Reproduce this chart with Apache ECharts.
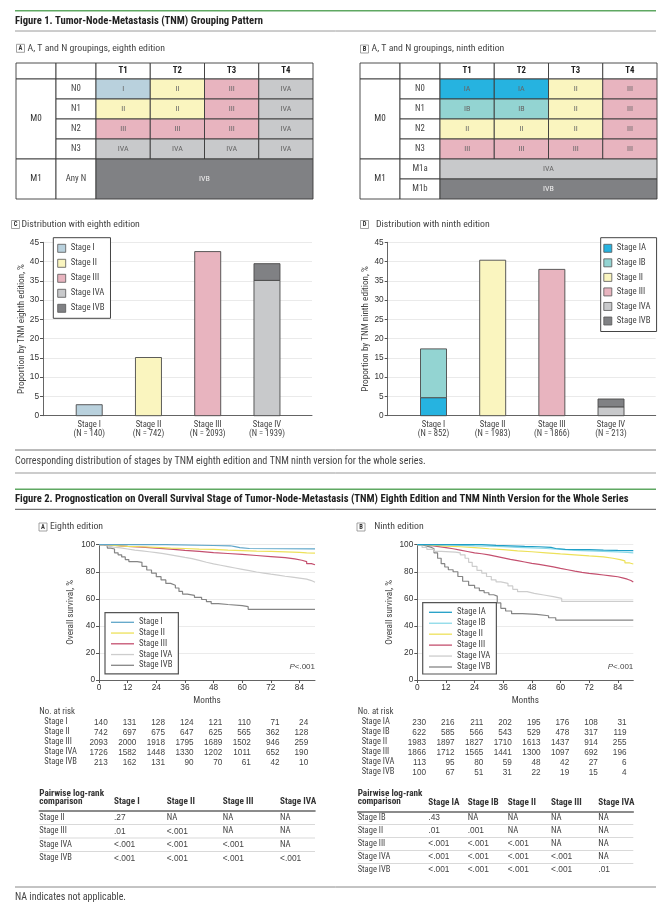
<!DOCTYPE html>
<html><head><meta charset="utf-8">
<script src="https://cdn.jsdelivr.net/npm/echarts@6/dist/echarts.min.js"></script>
<style>html,body{margin:0;padding:0;background:#fff}#c{width:671px;height:907px}</style>
</head><body><div id="c"></div><script>
const FONT = '"Roboto Condensed","Liberation Sans Narrow","Arial Narrow",sans-serif';
const NUMFONT = '"Liberation Sans",Arial,sans-serif';

// ---------------- DATA ----------------
const tCategories = ['T1', 'T2', 'T3', 'T4'];
const nCategories = ['N0', 'N1', 'N2', 'N3'];
const grouping8 = [['I','II','III','IVA'],['II','II','III','IVA'],['III','III','III','IVA'],['IVA','IVA','IVA','IVA']];
const m1Label8 = ['M1', 'Any N', 'IVB'];
const grouping9 = [['IA','IA','II','III'],['IB','IB','II','III'],['II','II','II','III'],['III','III','III','III']];
const m1Sub9 = ['M1a', 'M1b'];
const m1Stage9 = ['IVA', 'IVB'];

const barCats = ['Stage I', 'Stage II', 'Stage III', 'Stage IV'];
const barN8 = [140, 742, 2093, 1939];
const barN9 = [852, 1983, 1866, 213];
const dist8Stage = ['Stage I', 'Stage II', 'Stage III', 'Stage IVA', 'Stage IVB'];
const dist8Bar = [1, 2, 3, 4, 4];
const dist8Pct = [2.85, 15.10, 42.59, 35.12, 4.33];
const dist9Stage = ['Stage IA', 'Stage IB', 'Stage II', 'Stage III', 'Stage IVA', 'Stage IVB'];
const dist9Bar = [1, 1, 2, 3, 4, 4];
const dist9Pct = [4.68, 12.66, 40.35, 37.97, 2.30, 2.03];

const riskMonths = [0, 12, 24, 36, 48, 60, 72, 84];
const km8Names = ['Stage I', 'Stage II', 'Stage III', 'Stage IVA', 'Stage IVB'];
const km8StageI = [[0,100],[27,100],[28,99.4],[48,99.2],[55,98.6],[57,97.8],[59,97.2],[63,96.9],[90.5,96.9]];
const km8StageII = [[0,100],[3,99.5],[6,99.2],[9,98.8],[12,98.5],[18,98],[24,97.5],[30,97.2],[36,96.8],[42,96.5],[48,96],[54,95.6],[60,95.2],[66,95],[72,94.7],[78,94.3],[84,94],[87,93.8],[90.5,93.8]];
const km8StageIII = [[0,100],[3,99.6],[6,99.2],[9,98.7],[12,98.2],[18,97.5],[24,96.7],[30,95.8],[36,95],[42,94.2],[48,93.5],[54,92.8],[60,92],[66,91.2],[72,90.4],[78,89.5],[82,88.5],[85,87.5],[87,86],[89,85.2],[90.5,85.2]];
const km8StageIVA = [[0,100],[2,99],[4,98.2],[6,97.6],[9,96.8],[12,96],[15,95.4],[18,94.8],[21,94.1],[24,93.4],[27,92.5],[30,91.6],[33,90.6],[36,89.7],[39,88.4],[42,87],[45,85.8],[48,84.8],[51,83.8],[54,82.8],[57,81.8],[60,80.8],[63,79.8],[66,79],[69,78.2],[72,77.5],[75,76.7],[78,76],[81,75.3],[84,74.5],[87,73.5],[89,72.2],[90.5,71.9]];
const km8StageIVB = [[0,100],[2,99],[3.5,97.5],[5,96.8],[6.5,94],[8,92.5],[9.5,91],[11,89],[12.5,87.5],[16,87],[18,84],[20,81.3],[22,79],[24,76.4],[26,74],[28,71.4],[30,70],[32,68],[33.5,65.5],[35,63.5],[37,62.5],[40,61],[43,59.5],[45,58],[47,56.5],[50,55.8],[54,55],[60,54.2],[62.5,52.2],[90.5,52.2]];
const km9Names = ['Stage IA', 'Stage IB', 'Stage II', 'Stage III', 'Stage IVA', 'Stage IVB'];
const km9StageIA = [[0,100],[24,100],[27,99.5],[33,99.2],[39,98.8],[45,98.5],[51,98],[56,97.2],[58,96.6],[62,96.3],[72,96],[78,95.8],[84,95.6],[90.5,95.6]];
const km9StageIB = [[0,100],[6,99.8],[12,99.5],[18,99.2],[24,99],[30,98.5],[36,98],[42,97.6],[48,97.2],[54,96.6],[60,95.8],[66,95.4],[72,95],[78,94.7],[84,94.3],[88,94],[90.5,94]];
const km9StageII = [[0,100],[3,99.6],[6,99.3],[9,98.9],[12,98.5],[18,97.8],[24,97],[30,96.3],[36,95.5],[42,94.8],[48,94],[54,93.2],[60,92.5],[66,91.7],[72,91],[78,90],[82,89],[85,88],[87,86.5],[89,85.7],[90.5,85.7]];
const km9StageIII = [[0,100],[3,99.3],[6,98.6],[9,97.8],[12,97],[15,96],[18,95],[21,94],[24,93.3],[27,92.5],[30,91.4],[33,90.3],[36,89.2],[39,88.2],[42,87.2],[45,86.2],[48,85.4],[51,84.6],[54,83.6],[57,82.5],[60,81.5],[63,80.5],[66,79.6],[69,78.8],[72,78.2],[75,77.6],[78,77],[81,76.3],[84,75.5],[86,74.5],[88,73.5],[89.5,72.4],[90.5,72.4]];
const km9StageIVA = [[0,100],[2,98],[4,96.5],[7,95],[10,94.5],[16,94],[18,92.5],[20,90],[21.5,87],[23,84],[25,81],[27,79],[29,76.5],[31,74],[33,72.5],[35,71.4],[38,69.5],[40,67],[42,65.3],[46,64],[49,62.8],[53,61.6],[57,60.3],[60.5,58.1],[90.5,58.1]];
const km9StageIVB = [[0,100],[2,99],[4,98],[6,97],[7,94],[8.5,90],[10,86],[11.5,83.5],[13,81.5],[15,80],[17,76.5],[19,73],[21.5,70],[24,68],[26,66],[28,64.5],[30,63],[32,62],[33.5,57],[35,53],[37,51],[39.5,49],[44,48.5],[50,47.5],[55,46],[58,44.3],[90.5,44.3]];

const risk8Labels = ['Stage I', 'Stage II', 'Stage III', 'Stage IVA', 'Stage IVB'];
const risk8 = [[140,131,128,124,121,110,71,24],[742,697,675,647,625,565,362,128],[2093,2000,1918,1795,1689,1502,946,259],[1726,1582,1448,1330,1202,1011,652,190],[213,162,131,90,70,61,42,10]];
const risk9Labels = ['Stage IA', 'Stage IB', 'Stage II', 'Stage III', 'Stage IVA', 'Stage IVB'];
const risk9 = [[230,216,211,202,195,176,108,31],[622,585,566,543,529,478,317,119],[1983,1897,1827,1710,1613,1437,914,255],[1866,1712,1565,1441,1300,1097,692,196],[113,95,80,59,48,42,27,6],[100,67,51,31,22,19,15,4]];

const pair8Cols = ['Stage I', 'Stage II', 'Stage III', 'Stage IVA'];
const pair8Rows = ['Stage II', 'Stage III', 'Stage IVA', 'Stage IVB'];
const pair8P = [['.27','NA','NA','NA'],['.01','<.001','NA','NA'],['<.001','<.001','<.001','NA'],['<.001','<.001','<.001','<.001']];
const pair9Cols = ['Stage IA', 'Stage IB', 'Stage II', 'Stage III', 'Stage IVA'];
const pair9Rows = ['Stage IB', 'Stage II', 'Stage III', 'Stage IVA', 'Stage IVB'];
const pair9P = [['.43','NA','NA','NA','NA'],['.01','.001','NA','NA','NA'],['<.001','<.001','<.001','NA','NA'],['<.001','<.001','<.001','<.001','NA'],['<.001','<.001','<.001','<.001','.01']];

// ---------------- STYLE / LAYOUT ----------------
const stageFill = {I:'#b9d1dd', II:'#faf5bf', III:'#e8b4bf', IVA:'#c8c9cb', IVB:'#808184', IA:'#26b3e0', IB:'#93d4d2'};
const km8Colors = ['#5fa6c9', '#ede15a', '#c4506f', '#cdcdcd', '#858585'];
const km9Colors = ['#1f9fc7', '#8ad9e8', '#ede15a', '#c4506f', '#cdcdcd', '#858585'];
const colEdges = [0, 40, 80, 134.25, 188.5, 242.75, 297];
const rowEdges8 = [0, 16, 36, 56, 76, 96, 136];
const rowEdges9 = [0, 16, 36, 56, 76, 96, 116, 136];
const pair8X = [74.7, 127.4, 183.4, 240.7];
const pair9X = [70.6, 110, 150, 193.3, 240.6];
const TXT = '#444';

function stageKey(label) { return label.replace('Stage ', ''); }

function buildCells8() {
  const cells = [];
  cells.push({c0:0,c1:1,r0:0,r1:1,text:''});
  cells.push({c0:1,c1:2,r0:0,r1:1,text:''});
  tCategories.forEach((t,j)=>cells.push({c0:2+j,c1:3+j,r0:0,r1:1,text:t,bold:true}));
  cells.push({c0:0,c1:1,r0:1,r1:5,text:'M0',big:true});
  nCategories.forEach((n,i)=>{
    cells.push({c0:1,c1:2,r0:1+i,r1:2+i,text:n,lab:true});
    grouping8[i].forEach((s,j)=>cells.push({c0:2+j,c1:3+j,r0:1+i,r1:2+i,text:s,stage:s}));
  });
  cells.push({c0:0,c1:1,r0:5,r1:6,text:m1Label8[0],big:true});
  cells.push({c0:1,c1:2,r0:5,r1:6,text:m1Label8[1],lab:true});
  cells.push({c0:2,c1:6,r0:5,r1:6,text:m1Label8[2],stage:m1Label8[2]});
  return cells;
}
function buildCells9() {
  const cells = [];
  cells.push({c0:0,c1:1,r0:0,r1:1,text:''});
  cells.push({c0:1,c1:2,r0:0,r1:1,text:''});
  tCategories.forEach((t,j)=>cells.push({c0:2+j,c1:3+j,r0:0,r1:1,text:t,bold:true}));
  cells.push({c0:0,c1:1,r0:1,r1:5,text:'M0',big:true});
  nCategories.forEach((n,i)=>{
    cells.push({c0:1,c1:2,r0:1+i,r1:2+i,text:n,lab:true});
    grouping9[i].forEach((s,j)=>cells.push({c0:2+j,c1:3+j,r0:1+i,r1:2+i,text:s,stage:s}));
  });
  cells.push({c0:0,c1:1,r0:5,r1:7,text:'M1',big:true});
  m1Sub9.forEach((m,k)=>{
    cells.push({c0:1,c1:2,r0:5+k,r1:6+k,text:m,lab:true});
    cells.push({c0:2,c1:6,r0:5+k,r1:6+k,text:m1Stage9[k],stage:m1Stage9[k]});
  });
  return cells;
}

function tableSeries(idx, cells, rowEdges) {
  return {
    type:'custom', xAxisIndex:idx, yAxisIndex:idx, clip:false, silent:true,
    data: cells.map(c=>[colEdges[c.c0], rowEdges[c.r0]]),
    encode:{x:0, y:1},
    renderItem(params, api) {
      const c = cells[params.dataIndex];
      const p0 = api.coord([colEdges[c.c0], rowEdges[c.r0]]);
      const p1 = api.coord([colEdges[c.c1], rowEdges[c.r1]]);
      const fill = c.stage ? stageFill[c.stage] : '#fff';
      let tf = '#666', fs = 8;
      if (c.bold) { tf = '#222'; fs = 8.8; }
      if (c.lab) { tf = '#444'; fs = 8.8; }
      if (c.big) { tf = '#333'; fs = 9.2; }
      if (c.stage === 'IVB') tf = '#eeeeee';
      return {type:'group', children:[
        {type:'rect', shape:{x:p0[0], y:p0[1], width:p1[0]-p0[0], height:p1[1]-p0[1]},
         style:{fill, stroke:'#3a3a3a', lineWidth:0.9}},
        {type:'text', style:{text:c.text, x:(p0[0]+p1[0])/2, y:(p0[1]+p1[1])/2, align:'center', verticalAlign:'middle',
          fontSize: fs, fontFamily:FONT, fontWeight: c.bold ? 'bold' : 'normal', fill: tf}}
      ]};
    }
  };
}

function barSeries(idx, prefix, stages, bars, pcts) {
  return stages.map((s,i)=>{
    let base = 0;
    for (let j = 0; j < i; j++) if (bars[j] === bars[i]) base += pcts[j];
    const color = stageFill[stageKey(s)];
    return {
      type:'custom', name: prefix + s, xAxisIndex:idx, yAxisIndex:idx, silent:true,
      data: [[bars[i], base, base + pcts[i]]], encode:{x:0, y:[1,2]},
      itemStyle: {color, borderColor:'#555', borderWidth:0.8},
      renderItem(params, api) {
        const p0 = api.coord([api.value(0), api.value(1)]);
        const p1 = api.coord([api.value(0), api.value(2)]);
        return {type:'rect', shape:{x:p0[0]-13, y:p1[1], width:26, height:p0[1]-p1[1]},
          style:{fill:color, stroke:'#4a4a4a', lineWidth:0.9}};
      }
    };
  });
}

function kmSeries(idx, prefix, names, curves, colors) {
  return names.map((n,i)=>({
    type:'line', name: prefix + n, xAxisIndex:idx, yAxisIndex:idx, data: curves[i], step:'end',
    symbol:'none', showSymbol:false, lineStyle:{width:1.2, color:colors[i]}, itemStyle:{color:colors[i]},
    emphasis:{disabled:true}, z: 3 + (names.length - i)
  }));
}

function riskSeries(idx, counts) {
  const data = [];
  counts.forEach((row,i)=>row.forEach((n,j)=>data.push([riskMonths[j], i, n])));
  return {
    type:'custom', xAxisIndex:idx, yAxisIndex:idx, clip:false, silent:true, data, encode:{x:0, y:1},
    renderItem(params, api) {
      const d = data[params.dataIndex];
      const p = api.coord([d[0], d[1]]);
      return {type:'text', style:{text:String(d[2]), x:p[0]+8.7, y:p[1], align:'right', verticalAlign:'middle',
        fontSize:8.2, fontFamily:NUMFONT, fill:TXT}};
    }
  };
}

function pairSeries(idx, colX, values) {
  const data = [];
  values.forEach((row,i)=>row.forEach((v,j)=>data.push([colX[j], i, j])));
  return {
    type:'custom', xAxisIndex:idx, yAxisIndex:idx, clip:false, silent:true, data, encode:{x:0, y:1},
    renderItem(params, api) {
      const d = data[params.dataIndex];
      const p = api.coord([d[0], d[1]]);
      const cs = params.coordSys;
      const rh = cs.height / values.length;
      const v = values[d[1]][d[2]];
      const numeric = /\d/.test(v);
      const children = [{type:'text', style:{text: v, x:p[0], y:p[1], align:'left', verticalAlign:'middle',
        fontSize: numeric ? 8.4 : 8.8, fontFamily: numeric ? NUMFONT : FONT, fill:TXT}}];
      if (d[2] === 0 && d[1] < values.length - 1) {
        children.push({type:'line', shape:{x1:cs.x, y1:p[1]+rh/2, x2:cs.x+cs.width, y2:p[1]+rh/2},
          style:{stroke:'#c8c8c8', lineWidth:0.7}});
      }
      return {type:'group', children};
    }
  };
}

// ---------------- AXES ----------------
const hiddenX = (g,max)=>({gridIndex:g, type:'value', min:0, max, show:false});
const hiddenYInv = (g,max)=>({gridIndex:g, type:'value', min:0, max, inverse:true, show:false});
const axLine = {show:true, lineStyle:{color:'#555', width:0.9}};
const tickStyle = {fontSize:8.3, fontFamily:NUMFONT, color:'#333'};
const nameStyle = {fontSize:9.2, fontFamily:FONT, color:TXT};

function barX(g, nArr, min, max) {
  return {gridIndex:g, type:'value', min, max, axisLine:axLine, axisTick:{show:false}, splitLine:{show:false},
    axisLabel:{customValues:[1,2,3,4], formatter:v=>barCats[v-1] + '\n(N = ' + nArr[v-1] + ')',
      fontSize:8.6, fontFamily:FONT, color:TXT, lineHeight:9, margin:4.5}};
}
function barY(g, name, gap) {
  return {gridIndex:g, type:'value', min:0, max:45, interval:5, axisLine:axLine,
    axisTick:{show:true, length:3, lineStyle:{color:'#555'}}, axisLabel:Object.assign({margin:4}, tickStyle),
    splitLine:{show:true, lineStyle:{color:'#e4e4e4', width:0.8}},
    name, nameLocation:'middle', nameGap:gap, nameTextStyle:nameStyle};
}
function kmX(g) {
  return {gridIndex:g, type:'value', min:0, max:90.5, axisLine:axLine,
    axisTick:{show:true, customValues:riskMonths, length:3, lineStyle:{color:'#555'}},
    axisLabel:Object.assign({customValues:riskMonths, margin:4}, tickStyle), splitLine:{show:false},
    name:'Months', nameLocation:'middle', nameGap:16.5, nameTextStyle:nameStyle};
}
function kmY(g) {
  return {gridIndex:g, type:'value', min:0, max:100, interval:20, axisLine:axLine,
    axisTick:{show:true, length:3, lineStyle:{color:'#555'}}, axisLabel:Object.assign({margin:4}, tickStyle),
    splitLine:{show:true, lineStyle:{color:'#e6e6e6', width:0.8}},
    name:'Overall survival, %', nameLocation:'middle', nameGap:23.5, nameTextStyle:nameStyle};
}
function riskY(g, labels, margin) {
  return {gridIndex:g, type:'category', data:labels, inverse:true, axisLine:{show:false}, axisTick:{show:false},
    splitLine:{show:false}, axisLabel:{align:'left', margin, interval:0, fontSize:8.5, fontFamily:FONT, color:TXT}};
}
function pairX(g, max, colX, cols) {
  return {gridIndex:g, type:'value', min:0, max, position:'top',
    axisLine:{show:true, lineStyle:{color:'#666', width:1.6}}, axisTick:{show:false}, splitLine:{show:false},
    axisLabel:{customValues:colX, formatter:v=>cols[colX.indexOf(v)], align:'left', verticalAlign:'middle', margin:9.3,
      fontSize:9.2, fontFamily:FONT, fontWeight:'bold', color:'#333'}};
}
function pairY(g, rows) {
  return {gridIndex:g, type:'category', data:rows, inverse:true, axisLine:{show:false}, axisTick:{show:false},
    splitLine:{show:false}, axisLabel:{align:'left', margin:0, interval:0, fontSize:8.5, fontFamily:FONT, color:TXT}};
}

// ---------------- LEGENDS ----------------
const legText = {fontSize:8.8, fontFamily:FONT, color:TXT, lineHeight:9};
function barLegend(prefix, stages, left, top, gap, padding) {
  return {data: stages.map(s=>prefix+s), formatter:n=>n.slice(prefix.length), orient:'vertical', left, top,
    icon:'rect', itemWidth:8, itemHeight:8, itemGap:gap, textStyle:legText, borderColor:'#444', borderWidth:1,
    itemStyle:{borderColor:'#555', borderWidth:0.8},
    padding, selectedMode:false, backgroundColor:'#fff'};
}
function kmLegend(prefix, names, left, top, gap, padding) {
  return {data: names.map(s=>prefix+s), formatter:n=>n.slice(prefix.length), orient:'vertical', left, top,
    icon:'rect', itemWidth:23, itemHeight:1.3, itemGap:gap, textStyle:Object.assign({}, legText, {fontSize:8.7}),
    borderColor:'#555', borderWidth:1.2, padding, selectedMode:false, backgroundColor:'#fff', z:10};
}

// ---------------- GRAPHIC ----------------
function gLine(x1,y1,x2,y2,stroke,w) { return {type:'line', shape:{x1,y1,x2,y2}, style:{stroke, lineWidth:w}, silent:true}; }
function gText(text,x,y,size,opts) {
  return {type:'text', silent:true, style:Object.assign({text, x, y, fontSize:size, fontFamily:FONT, fill:TXT,
    verticalAlign:'middle', align:'left'}, opts||{})};
}
function panel(letter, x, cy, text, tx) {
  return [
    {type:'rect', silent:true, shape:{x, y:cy-4, width:8, height:8}, style:{fill:'#fff', stroke:'#8a8a8a', lineWidth:0.8}},
    gText(letter, x+4, cy, 6.5, {align:'center', fontWeight:'bold', fill:'#333'}),
    gText(text, tx, cy, 9.8)
  ];
}
const pStyle = {align:'right', fontFamily:NUMFONT, rich:{i:{fontStyle:'italic', fontSize:8, fontFamily:NUMFONT, fill:TXT}}};
const graphic = [
  gLine(15,10.7,656,10.7,'#5fa862',1.6),
  gText('Figure 1. Tumor-Node-Metastasis (TNM) Grouping Pattern', 15, 21, 10.6, {fontWeight:'bold', fill:'#222'}),
  gLine(15,31,656,31,'#9a9a9a',1),
  ...panel('A', 16.5, 48.3, 'A, T and N groupings, eighth edition', 27.5),
  ...panel('B', 360.5, 49, 'A, T and N groupings, ninth edition', 371.5),
  ...panel('C', 11.5, 224.5, 'Distribution with eighth edition', 21.5),
  ...panel('D', 360.5, 224.5, 'Distribution with ninth edition', 376),
  gLine(15,450,656,450,'#777',1),
  gText('Corresponding distribution of stages by TNM eighth edition and TNM ninth version for the whole series.', 15, 461.7, 10.1),
  gLine(15,473,656,473,'#999',1),
  gLine(15,489.3,656,489.3,'#5fa862',1.6),
  gText('Figure 2. Prognostication on Overall Survival Stage of Tumor-Node-Metastasis (TNM) Eighth Edition and TNM Ninth Version for the Whole Series', 15, 499.3, 10.6, {fontWeight:'bold', fill:'#222'}),
  gLine(15,509.3,656,509.3,'#555',1),
  ...panel('A', 39, 527, 'Eighth edition', 50),
  ...panel('B', 357, 527, 'Ninth edition', 374.3),
  gText('{i|P}<.001', 315, 666.7, 8, pStyle),
  gText('{i|P}<.001', 633.3, 666.7, 8, pStyle),
  gText('No. at risk', 39.3, 711.7, 8.8),
  gText('No. at risk', 357.7, 711.7, 8.8),
  gText('Pairwise log-rank', 39.3, 793.3, 9.2, {fontWeight:'bold', fill:'#333'}),
  gText('comparison', 39.3, 801.7, 9.2, {fontWeight:'bold', fill:'#333'}),
  gText('Pairwise log-rank', 357.7, 793.3, 9.2, {fontWeight:'bold', fill:'#333'}),
  gText('comparison', 357.7, 801.7, 9.2, {fontWeight:'bold', fill:'#333'}),
  gLine(15,887,656,887,'#888',1),
  gText('NA indicates not applicable.', 15, 897.3, 10)
];

// ---------------- OPTION ----------------
const option = {
  backgroundColor:'#fff',
  animation:false,
  textStyle:{fontFamily:FONT},
  grid:[
    {left:16, top:63, width:297, height:136},
    {left:360, top:63, width:297, height:136},
    {left:43, top:242.3, width:269, height:173.4},
    {left:387.7, top:242.3, width:268, height:173.4},
    {left:99, top:544.7, width:216, height:135.3},
    {left:417.3, top:544.7, width:216, height:135.3},
    {left:99, top:717.3, width:216, height:50},
    {left:417.3, top:717.3, width:216, height:60},
    {left:39.3, top:811, width:275.7, height:54},
    {left:357.7, top:811.5, width:275.6, height:65}
  ],
  xAxis:[
    hiddenX(0,297), hiddenX(1,297),
    barX(2, barN8, 0.22, 4.76), barX(3, barN9, 0.226, 4.755),
    kmX(4), kmX(5),
    hiddenX(6,90.5), hiddenX(7,90.5),
    pairX(8, 275.7, pair8X, pair8Cols), pairX(9, 275.6, pair9X, pair9Cols)
  ],
  yAxis:[
    hiddenYInv(0,136), hiddenYInv(1,136),
    barY(2,'Proportion by TNM eighth edition, %', 16), barY(3,'Proportion by TNM ninth edition, %', 16.4),
    kmY(4), kmY(5),
    riskY(6, risk8Labels, 54.7), riskY(7, risk9Labels, 55.6),
    pairY(8, pair8Rows), pairY(9, pair9Rows)
  ],
  legend:[
    barLegend('c|', dist8Stage, 53.3, 237.7, 6, [6.1, 6, 5.5, 4]),
    barLegend('d|', dist9Stage, 600.7, 237.7, 5.54, [6.1, 6, 6, 2.7]),
    kmLegend('a|', km8Names, 105, 612.7, 1.75, [5.1, 6, 4, 6]),
    kmLegend('b|', km9Names, 422.7, 602.7, 1.94, [5.1, 6, 2.5, 6.3])
  ],
  series:[
    tableSeries(0, buildCells8(), rowEdges8),
    tableSeries(1, buildCells9(), rowEdges9),
    ...barSeries(2, 'c|', dist8Stage, dist8Bar, dist8Pct),
    ...barSeries(3, 'd|', dist9Stage, dist9Bar, dist9Pct),
    ...kmSeries(4, 'a|', km8Names, [km8StageI, km8StageII, km8StageIII, km8StageIVA, km8StageIVB], km8Colors),
    ...kmSeries(5, 'b|', km9Names, [km9StageIA, km9StageIB, km9StageII, km9StageIII, km9StageIVA, km9StageIVB], km9Colors),
    riskSeries(6, risk8), riskSeries(7, risk9),
    pairSeries(8, pair8X, pair8P), pairSeries(9, pair9X, pair9P)
  ],
  graphic
};
const chart = echarts.init(document.getElementById('c'), null, {renderer:'canvas', width:671, height:907});
chart.setOption(option);
</script></body></html>
